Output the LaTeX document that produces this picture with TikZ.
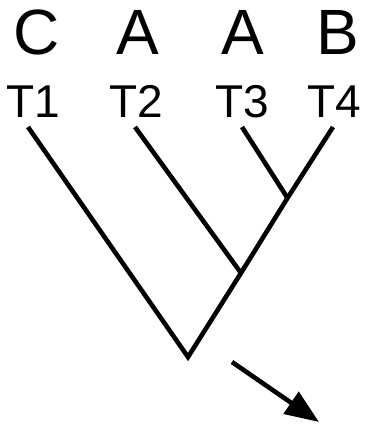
\documentclass[tikz,border=0pt]{standalone}
\usepackage{fontspec}
\setmainfont{Liberation Sans}
\usetikzlibrary{arrows.meta}
\begin{document}
\begin{tikzpicture}[x=1pt,y=-1pt,
  branch/.style={line width=4.6pt,line cap=butt,line join=miter},
  seq/.style={font=\fontsize{64}{70}\selectfont,inner sep=0pt,anchor=base},
  taxon/.style={font=\fontsize{46}{50}\selectfont,inner sep=0pt,anchor=base}]
\useasboundingbox (0,0) rectangle (373,427);
% sequence letters
\node[seq] (s1) at (37,55) {C};
\node[seq] (s2) at (137.5,55) {A};
\node[seq] (s3) at (242.5,55) {A};
\node[seq] (s4) at (338,55) {B};
% taxon labels
\node[taxon] (t1) at (33.5,118) {T1};
\node[taxon] (t2) at (136,118) {T2};
\node[taxon] (t3) at (242,118) {T3};
\node[taxon] (t4) at (334,118) {T4};
% tree points
\coordinate (l1) at (28,127);
\coordinate (l2) at (135,127);
\coordinate (l3) at (242,127);
\coordinate (l4) at (333,127);
\coordinate (n34) at (287.5,198);
\coordinate (n234) at (241,273);
\coordinate (root) at (188,357);
\coordinate (a0) at (232,362);
\coordinate (a1) at (319,422);
% branches
\draw[branch] (l1) -- (root) -- (n234) -- (n34) -- (l4);
\draw[branch] (l2) -- (n234);
\draw[branch] (l3) -- (n34);
% arrow
\draw[line width=4.6pt,-{Triangle[length=34pt,width=26pt]}] (a0) -- (a1);
\end{tikzpicture}
\end{document}
